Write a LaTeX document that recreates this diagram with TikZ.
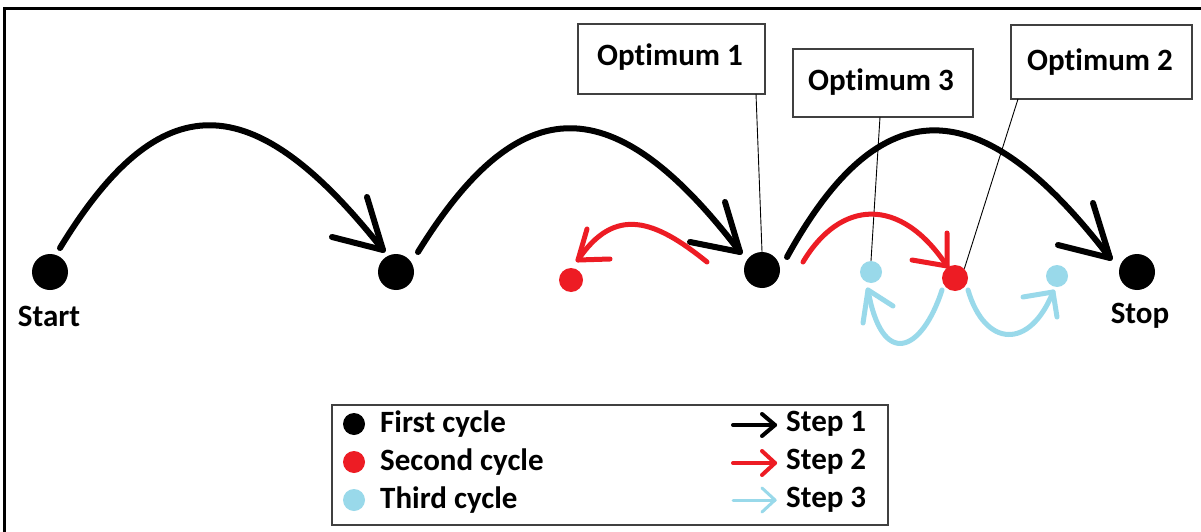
\documentclass[tikz,border=0pt]{standalone}
\usepackage{fontspec}
\setmainfont{Carlito}[Ligatures={NoCommon}]
\definecolor{pred}{HTML}{ED1C24}
\definecolor{pblue}{HTML}{99D9EA}
\definecolor{boxgray}{HTML}{404040}
\begin{document}
\begin{tikzpicture}[x=1pt,y=-1pt,
  lbl/.style={font=\bfseries\fontsize{31}{36}\selectfont, inner sep=0pt},
  dotn/.style={circle, fill=#1, inner sep=0pt},
  optbox/.style={draw=boxgray, line width=1.3pt},
  leader/.style={line width=0.9pt, black},
  sk/.style={line width=#1, line cap=round, line join=round},
  bk/.style={sk=6pt, draw=black},
  rd/.style={sk=5pt, draw=pred},
  bl/.style={sk=5pt, draw=pblue}
]
\useasboundingbox (0,0) rectangle (1201,532);
\fill[white] (0,0) rectangle (1201,532);
% frame
\draw[line width=3pt] (4,532) -- (4,8.5) -- (1205,8.5);

% dots
\node[dotn=black, minimum size=36pt] (s) at (50,272) {};
\node[dotn=black, minimum size=36pt] (b2) at (396,272) {};
\node[dotn=black, minimum size=36pt] (b3) at (762,270) {};
\node[dotn=black, minimum size=36pt] (e) at (1137,272) {};
\node[dotn=pred, minimum size=24pt] (r1) at (571,280) {};
\node[dotn=pred, minimum size=26pt] (r2) at (955,278) {};
\node[dotn=pblue, minimum size=22pt] (c1) at (871,272) {};
\node[dotn=pblue, minimum size=22pt] (c2) at (1057,276) {};

% labels
\node[lbl] (startl) at (49,316) {Start};
\node[lbl] (stopl) at (1140,316) {Stop};

% optimum boxes
\draw[optbox] (578,24) rectangle (765,94);
\node[lbl] (o1) at (670,57) {Optimum 1};
\draw[optbox] (793,49) rectangle (973,117);
\node[lbl] (o3) at (881,82) {Optimum 3};
\draw[optbox] (1011,25) rectangle (1192,99);
\node[lbl] (o2) at (1100,62) {Optimum 2};
\coordinate (o1b) at (756,94);
\coordinate (o3b) at (880,117);
\coordinate (o2b) at (1018,99);
\draw[leader] (o1b) -- (b3.north);
\draw[leader] (o3b) -- (c1.north);
\draw[leader] (o2b) -- (r2.north east);

% black arrows (step 1)
\draw[bk] (60,248) .. controls (160,84) and (252,84) .. (383,250);
\draw[bk] (367,197) -- (383,250) -- (332,237);
\draw[bk] (418,252) .. controls (520,87) and (614,87) .. (740,252);
\draw[bk] (725,202) -- (740,252) -- (690,242);
\draw[bk] (787,257) .. controls (880,88) and (980,88) .. (1110,258);
\draw[bk] (1093,203) -- (1110,258) -- (1058,245);

% red arrows (step 2)
\draw[rd] (707,262) .. controls (655,220) and (615,205) .. (578,260);
\draw[rd] (587,229) -- (578,260) -- (610,259);
\draw[rd] (803,262) .. controls (840,200) and (900,195) .. (947,266);
\draw[rd] (947,233) -- (947,266) -- (912,260);

% blue arrows (step 3)
\draw[bl] (942,290) .. controls (922,352) and (882,370) .. (868,290);
\draw[bl] (863,323) -- (868,290) -- (893,306);
\draw[bl] (968,290) .. controls (985,348) and (1030,350) .. (1053,292);
\draw[bl] (1057,317) -- (1053,292) -- (1023,297);

% legend
\draw[line width=1.3pt, draw=boxgray] (332,405) rectangle (888,525);
\node[dotn=black, minimum size=22pt] (lg1) at (354,424) {};
\node[dotn=pred, minimum size=22pt] (lg2) at (354,462) {};
\node[dotn=pblue, minimum size=22pt] (lg3) at (354,500) {};
\node[lbl, anchor=west] (lt1) at (380,424) {First cycle};
\node[lbl, anchor=west] (lt2) at (380,462) {Second cycle};
\node[lbl, anchor=west] (lt3) at (380,500) {Third cycle};
\node[lbl, anchor=west] (ls1) at (786,424) {Step 1};
\node[lbl, anchor=west] (ls2) at (786,462) {Step 2};
\node[lbl, anchor=west] (ls3) at (786,500) {Step 3};
\coordinate (la1) at (733,425);
\coordinate (la2) at (733,463);
\coordinate (la3) at (733,500);
\draw[sk=4pt, draw=black] (la1) -- (775,425);
\draw[sk=4pt, draw=black] (762,414) -- (775,425) -- (762,436);
\draw[sk=4pt, draw=pred] (la2) -- (775,463);
\draw[sk=4pt, draw=pred] (762,451) -- (775,463) -- (762,475);
\draw[sk=3pt, draw=pblue] (la3) -- (775,500);
\draw[sk=3pt, draw=pblue] (762,488) -- (775,500) -- (762,512);
\end{tikzpicture}
\end{document}
